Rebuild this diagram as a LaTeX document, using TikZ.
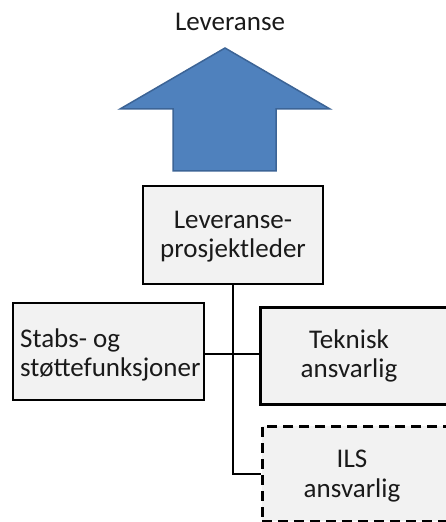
\documentclass[tikz,border=0pt]{standalone}
\usepackage{fontspec}
\setmainfont{Carlito}
\begin{document}
\begin{tikzpicture}[x=1bp,y=-1bp,
  box/.style={draw=black,line width=2.7bp,fill=boxgray,inner sep=0pt},
  conn/.style={draw=black,line width=2.7bp},
  txt/.style={font=\fontsize{27bp}{30bp}\selectfont,text=textdark,inner sep=0pt,anchor=base},
]
\definecolor{boxgray}{HTML}{F2F2F2}
\definecolor{textdark}{HTML}{1A1A1A}
\definecolor{arrowfill}{HTML}{4F81BD}
\definecolor{arrowline}{HTML}{3C6496}
\useasboundingbox (0,0) rectangle (446,522);
\clip (0,0) rectangle (446,522);
% arrow
\draw[fill=arrowfill,draw=arrowline,line width=1.5bp,line join=miter]
  (225,48) -- (330,109) -- (276,109) -- (276,171) -- (173,171) -- (173,109) -- (120,109) -- cycle;
\node[txt] (lev) at (230,31) {Leveranse};
% boxes
\node[box,minimum width=180bp,minimum height=98bp] (pl) at (233,235) {};
\node[box,minimum width=191bp,minimum height=97bp] (st) at (108.5,351.5) {};
\node[box,minimum width=240bp,minimum height=97bp,anchor=north west] (tk) at (259,306) {};
\node[box,dashed,dash pattern=on 10bp off 6bp,minimum width=240bp,minimum height=95bp,anchor=north west] (ils) at (261,425) {};
% texts
\node[txt] (pl1) at (233,228) {Leveranse-};
\node[txt] (pl2) at (233,257.5) {prosjektleder};
\node[txt,anchor=base west] (st1) at (20,347) {Stabs- og};
\node[txt,anchor=base west] (st2) at (20,376.5) {støttefunksjoner};
\node[txt] (tk1) at (349,348) {Teknisk};
\node[txt] (tk2) at (349,377.5) {ansvarlig};
\node[txt] (ils1) at (352,467) {ILS};
\node[txt] (ils2) at (352,497.5) {ansvarlig};
% connectors
\coordinate (j1) at (pl.south |- 0,354);
\coordinate (j2) at (pl.south |- 0,474);
\draw[conn] (pl.south) -- (j2) -- (j2 -| ils.west);
\draw[conn] (st.east |- j1) -- (j1 -| tk.west);
\end{tikzpicture}
\end{document}
